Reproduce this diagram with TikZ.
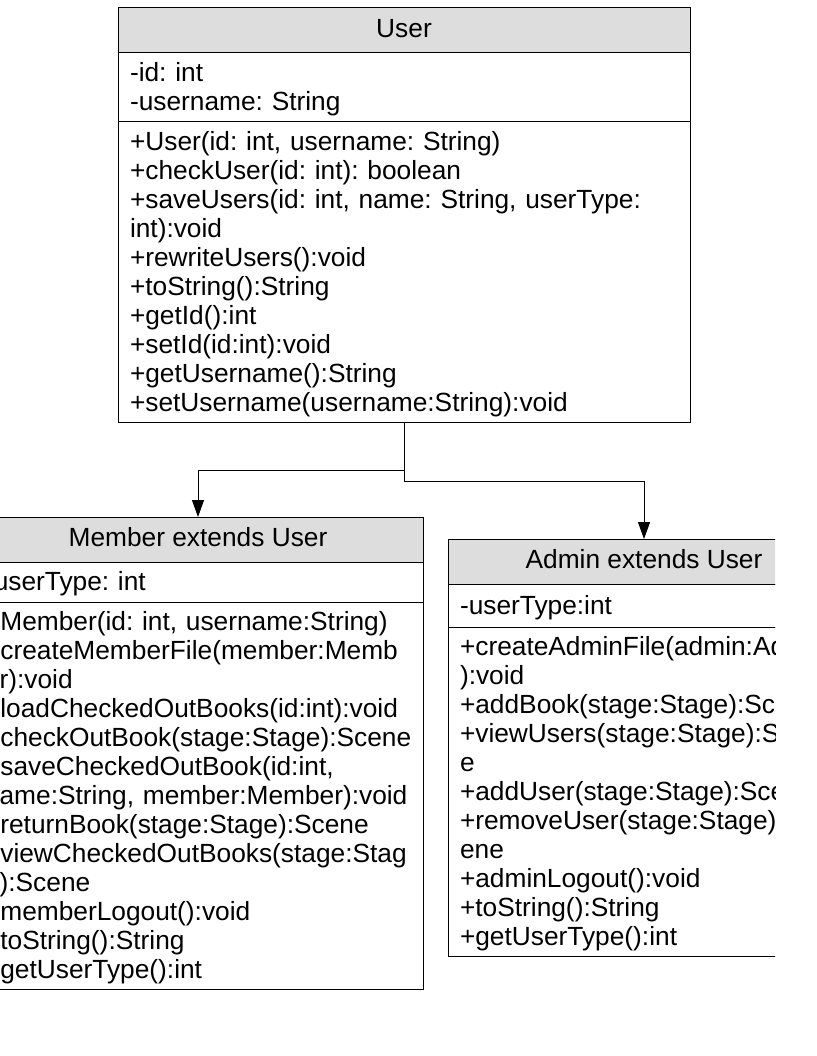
\documentclass[tikz,border=0pt]{standalone}
\usepackage{fontspec}
\setmainfont{Liberation Sans}
\usetikzlibrary{arrows.meta,positioning}
\definecolor{headgray}{RGB}{221,221,221}
\frenchspacing
\tikzset{x=1pt, y=-1pt, % One unit is one pixel of the page, y grows downwards
        every node/.style={ % Boxes touch each other without a gap
            outer sep=0pt,
            font=\fontsize{26.3}{29}\selectfont},
        classhead/.style={ % Compartment with the class name
            draw, line width=1pt,
            fill=headgray,
            minimum height=45pt,
            text height=19pt, text depth=5pt,
            inner sep=0pt},
        classpart/.style={ % Compartments with fields and methods
            draw, line width=1pt,
            align=left,
            inner xsep=12pt, inner ysep=0pt,
            execute at begin node=\rule{0pt}{26pt},
            execute at end node=\strut},
        extends/.style={ % Inheritance connectors
            draw, line width=1pt,
            -{Triangle[width=12pt,length=17pt]}}
        }

\begin{document}
\begin{tikzpicture}
    \useasboundingbox (0,0) rectangle (816,1056);
    \clip (0,0) rectangle (775,1056);

    \node[classhead, minimum width=572pt, anchor=north] (user) at (404,8) {User};
    \node[classpart, text width=548pt, minimum height=69pt] (userattr) [below=0pt of user]
        {-id: int\\-username: String};
    \node[classpart, text width=548pt, minimum height=300pt] (userops) [below=0pt of userattr]
        {+User(id: int, username: String)\\
         +checkUser(id: int): boolean\\
         +saveUsers(id: int, name: String, userType:\\
         int):void\\
         +rewriteUsers():void\\
         +toString():String\\
         +getId():int\\
         +setId(id:int):void\\
         +getUsername():String\\
         +setUsername(username:String):void};

    \node[classhead, minimum width=450pt, anchor=north] (member) at (198,517) {Member extends User};
    \node[classpart, text width=426pt, minimum height=40pt] (memberattr) [below=0pt of member]
        {-userType: int};
    \node[classpart, text width=426pt, minimum height=387pt] (memberops) [below=0pt of memberattr]
        {+Member(id: int, username:String)\\
         +createMemberFile(member:Memb\\
         er):void\\
         +loadCheckedOutBooks(id:int):void\\
         +checkOutBook(stage:Stage):Scene\\
         +saveCheckedOutBook(id:int,\\
         name:String,~member:Member):void\\
         +returnBook(stage:Stage):Scene\\
         +viewCheckedOutBooks(stage:Stag\\
         e):Scene\\
         +memberLogout():void\\
         +toString():String\\
         +getUserType():int};

    \node[classhead, minimum width=392pt, anchor=north] (admin) at (644,539) {Admin extends User};
    \node[classpart, text width=368pt, minimum height=43pt] (adminattr) [below=0pt of admin]
        {-userType:int};
    \node[classpart, text width=368pt, minimum height=329pt] (adminops) [below=0pt of adminattr]
        {+createAdminFile(admin:Admin\\
         ):void\\
         +addBook(stage:Stage):Scene\\
         +viewUsers(stage:Stage):Scen\\
         e\\
         +addUser(stage:Stage):Scene\\
         +removeUser(stage:Stage):Sc\\
         ene\\
         +adminLogout():void\\
         +toString():String\\
         +getUserType():int};

    \coordinate (tomember) at (404,470);
    \coordinate (toadmin) at (404,481);
    \draw[extends] (userops.south) -- (tomember) -| (member.north);
    \draw[extends] (userops.south) -- (toadmin) -| (admin.north);
\end{tikzpicture}
\end{document}
